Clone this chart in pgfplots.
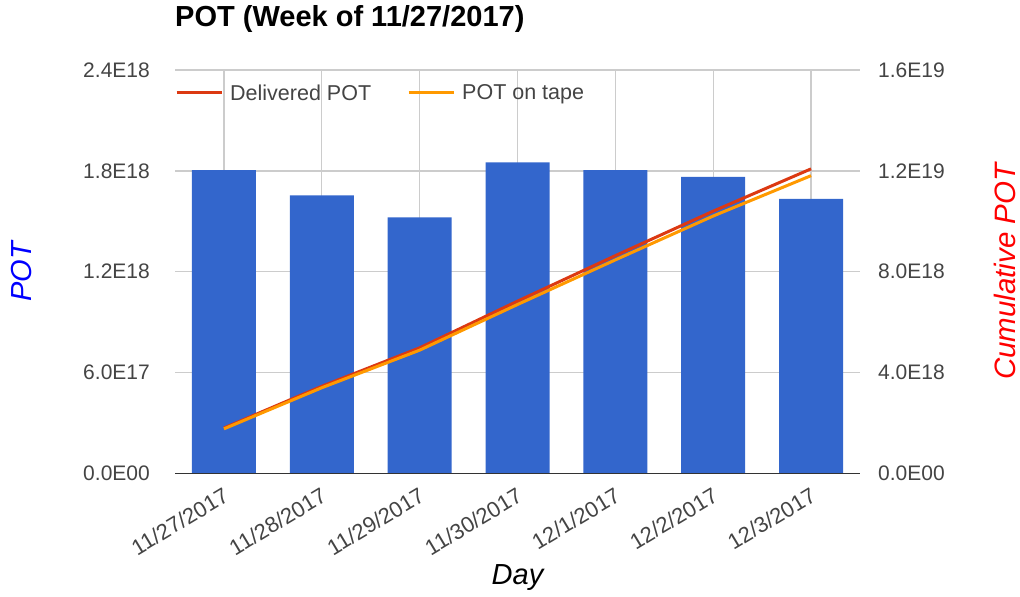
\documentclass[border=0pt]{standalone}
\usepackage{pgfplots}
\pgfplotsset{compat=1.18}
\usepackage{fontspec}
\setmainfont{Liberation Sans}
\definecolor{barblue}{HTML}{3366CC}
\definecolor{delred}{HTML}{DC3912}
\definecolor{tapeor}{HTML}{FF9900}
\definecolor{ticktext}{HTML}{444444}
\definecolor{gridgray}{HTML}{CCCCCC}
\definecolor{basegray}{HTML}{333333}
\begin{document}
\begin{tikzpicture}
\useasboundingbox (0,0) rectangle (1020pt,597pt);
\begin{axis}[
  at={(175pt,123.5pt)}, anchor=south west,
  scale only axis, width=685pt, height=403.5pt,
  xmin=-0.5, xmax=6.5, ymin=0, ymax=2.4,
  xtick={0,1,2,3,4,5,6},
  xticklabels={11/27/2017,11/28/2017,11/29/2017,11/30/2017,12/1/2017,12/2/2017,12/3/2017},
  ytick={0,0.6,1.2,1.8,2.4},
  yticklabels={0.0E00,6.0E17,1.2E18,1.8E18,2.4E18},
  axis line style={draw=none}, major tick length=0pt,
  xmajorgrids, ymajorgrids, grid style={gridgray, line width=1.3pt},
  tick label style={font=\fontsize{21}{25}\selectfont, text=ticktext},
  yticklabel style={anchor=east, inner sep=0pt, xshift=-25pt},
  xticklabel style={rotate=31, anchor=north east, inner sep=0pt, yshift=-10pt, xshift=-8pt, font=\fontsize{22}{26}\selectfont},
  title={POT (Week of 11/27/2017)},
  title style={at={(axis description cs:0,1.0917)}, anchor=base west, inner sep=0pt, font=\bfseries\fontsize{29}{33}\selectfont},
  xlabel={Day},
  xlabel style={at={(axis description cs:0.5,-0.259)}, anchor=center, font=\itshape\fontsize{29}{33}\selectfont},
  ylabel={POT},
  ylabel style={at={(axis description cs:-0.2234,0.5)}, anchor=center, font=\itshape\fontsize{29}{33}\selectfont, text=blue},
]
\addplot[ybar, bar width=64pt, fill=barblue, draw=none] coordinates {
  (0,1.804) (1,1.655) (2,1.524) (3,1.851) (4,1.804) (5,1.764) (6,1.633)};
\end{axis}
\begin{axis}[
  at={(175pt,123.5pt)}, anchor=south west,
  scale only axis, width=685pt, height=403.5pt,
  xmin=-0.5, xmax=6.5, ymin=0, ymax=16,
  axis y line*=right, axis x line=none,
  ytick={0,4,8,12,16},
  yticklabels={0.0E00,4.0E18,8.0E18,1.2E19,1.6E19},
  axis line style={draw=none}, major tick length=0pt,
  extra y ticks={0}, extra y tick labels={},
  extra y tick style={ymajorgrids=true, grid style={basegray, line width=1.6pt}},
  tick label style={font=\fontsize{21}{25}\selectfont, text=ticktext},
  yticklabel style={anchor=west, inner sep=0pt, xshift=18pt},
  ylabel={Cumulative POT},
  ylabel style={at={(axis description cs:1.211,0.5)}, anchor=center, font=\itshape\fontsize{29.5}{33}\selectfont, text=red},
  legend columns=2,
  legend style={at={(axis description cs:0,0.943)}, anchor=west, draw=none, fill=none,
    inner sep=0pt, font=\fontsize{21.5}{25}\selectfont, text=ticktext,
    nodes={inner sep=0pt},
    /tikz/every odd column/.append style={column sep=7pt},
    /tikz/every even column/.append style={column sep=36pt}},
  legend image code/.code={\draw[#1] (0pt,0pt) -- (45pt,0pt);},
]
\addplot[delred, line width=3pt] coordinates {
  (0,1.804) (1,3.459) (2,4.983) (3,6.834) (4,8.638) (5,10.402) (6,12.08)};
\addlegendentry{Delivered POT}
\addplot[tapeor, line width=3pt] coordinates {
  (0,1.77) (1,3.40) (2,4.89) (3,6.70) (4,8.47) (5,10.21) (6,11.81)};
\addlegendentry{POT on tape}
\end{axis}
\end{tikzpicture}
\end{document}
